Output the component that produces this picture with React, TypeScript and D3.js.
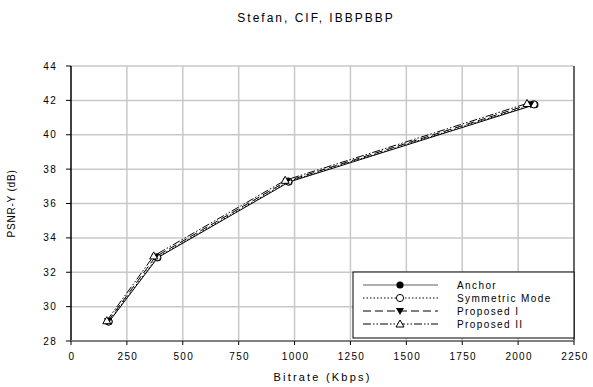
import React from "react";
import * as d3 from "d3";

const seriesNames = ["Anchor", "Symmetric Mode", "Proposed I", "Proposed II"];
const anchorX = [170, 388, 975, 2075];
const anchorY = [29.12, 32.85, 37.25, 41.75];
const symX = [168, 385, 972, 2070];
const symY = [29.13, 32.87, 37.28, 41.77];
const p1X = [165, 378, 965, 2055];
const p1Y = [29.15, 32.9, 37.3, 41.78];
const p2X = [160, 370, 958, 2040];
const p2Y = [29.18, 32.95, 37.35, 41.82];
const xTicks = [0, 250, 500, 750, 1000, 1250, 1500, 1750, 2000, 2250];
const yTicks = [28, 30, 32, 34, 36, 38, 40, 42, 44];

const W = 593, H = 387;
const L = 71, R = 574, T = 66, B = 341;
const font = "'Liberation Sans', Arial, sans-serif";

export default function App() {
  const x = d3.scaleLinear().domain([0, 2250]).range([L, R]);
  const y = d3.scaleLinear().domain([28, 44]).range([B, T]);
  const series = [
    { xs: anchorX, ys: anchorY, dash: "none", marker: "dot" },
    { xs: symX, ys: symY, dash: "1.5,2", marker: "circle" },
    { xs: p1X, ys: p1Y, dash: "8,4", marker: "down" },
    { xs: p2X, ys: p2Y, dash: "8,2,1.5,2,1.5,2", marker: "up" },
  ];
  const line = d3
    .line<[number, number]>()
    .x((d) => x(d[0]))
    .y((d) => y(d[1]));

  const marker = (kind: string, cx: number, cy: number, key: any) => {
    if (kind === "dot") return <circle key={key} cx={cx} cy={cy} r={3.6} fill="black" />;
    if (kind === "circle") return <circle key={key} cx={cx} cy={cy} r={3.6} fill="white" stroke="black" strokeWidth={1} />;
    if (kind === "down")
      return <path key={key} d={`M${cx - 4},${cy - 3}L${cx + 4},${cy - 3}L${cx},${cy + 4}Z`} fill="black" />;
    return <path key={key} d={`M${cx - 4},${cy + 3}L${cx + 4},${cy + 3}L${cx},${cy - 4}Z`} fill="white" stroke="black" strokeWidth={1} />;
  };

  const legX = 353, legY = 272, legW = R - 353, legH = 66;
  const rowY = [285, 298, 311, 324];

  return (
    <svg width={W} height={H} style={{ position: "absolute", left: 0, top: 0 }} fontFamily={font}>
      <rect width={W} height={H} fill="white" />
      <text x={316} y={22} textAnchor="middle" fontSize={12} letterSpacing={2}>
        Stefan, CIF, IBBPBBP
      </text>
      {/* grid */}
      {xTicks.slice(1).map((t) => (
        <line key={"gx" + t} x1={x(t)} x2={x(t)} y1={T} y2={B} stroke="#c8c8c8" strokeWidth={1.5} />
      ))}
      {yTicks.slice(1).map((t) => (
        <line key={"gy" + t} x1={L} x2={R} y1={y(t)} y2={y(t)} stroke="#c8c8c8" strokeWidth={1.5} />
      ))}
      <line x1={R} x2={R} y1={T} y2={B} stroke="#404040" strokeWidth={1.5} />
      {/* axes */}
      <line x1={L} x2={L} y1={T} y2={B} stroke="black" strokeWidth={1.5} />
      <line x1={L} x2={R} y1={B} y2={B} stroke="#808080" strokeWidth={2} />
      {yTicks.map((t) => (
        <g key={"yt" + t}>
          <line x1={L - 5} x2={L} y1={y(t)} y2={y(t)} stroke="black" strokeWidth={1} />
          <text x={L - 14} y={y(t) + 3.5} textAnchor="end" fontSize={10} letterSpacing={1.3}>
            {t}
          </text>
        </g>
      ))}
      {xTicks.map((t) => (
        <g key={"xt" + t}>
          <line x1={x(t)} x2={x(t)} y1={B} y2={B + 4} stroke="black" strokeWidth={1} />
          <text x={x(t) + 1} y={B + 19} textAnchor="middle" fontSize={10} letterSpacing={1.3}>
            {t}
          </text>
        </g>
      ))}
      <text x={(L + R) / 2} y={381} textAnchor="middle" fontSize={11} letterSpacing={2.2}>
        Bitrate (Kbps)
      </text>
      <text
        transform={`translate(15,${(T + B) / 2}) rotate(-90)`}
        textAnchor="middle"
        fontSize={10}
        letterSpacing={0.8}
      >
        PSNR-Y (dB)
      </text>
      {/* series */}
      {series.map((s, i) => {
        const pts = s.xs.map((v, j) => [v, s.ys[j]] as [number, number]);
        return (
          <g key={"s" + i}>
            <path d={line(pts) || ""} fill="none" stroke="black" strokeWidth={1} strokeDasharray={s.dash} />
            {pts.map((p, j) => marker(s.marker, x(p[0]), y(p[1]), j))}
          </g>
        );
      })}
      {/* legend */}
      <rect x={legX} y={legY} width={legW} height={legH} fill="white" stroke="black" strokeWidth={1} />
      {series.map((s, i) => (
        <g key={"l" + i}>
          <line x1={363} x2={438} y1={rowY[i]} y2={rowY[i]} stroke={i === 0 ? "#606060" : "black"} strokeWidth={1} strokeDasharray={s.dash} />
          {marker(s.marker, 400, rowY[i], "m")}
          <text x={457} y={rowY[i] + 3.5} fontSize={10} letterSpacing={1.4}>
            {seriesNames[i]}
          </text>
        </g>
      ))}
    </svg>
  );
}
